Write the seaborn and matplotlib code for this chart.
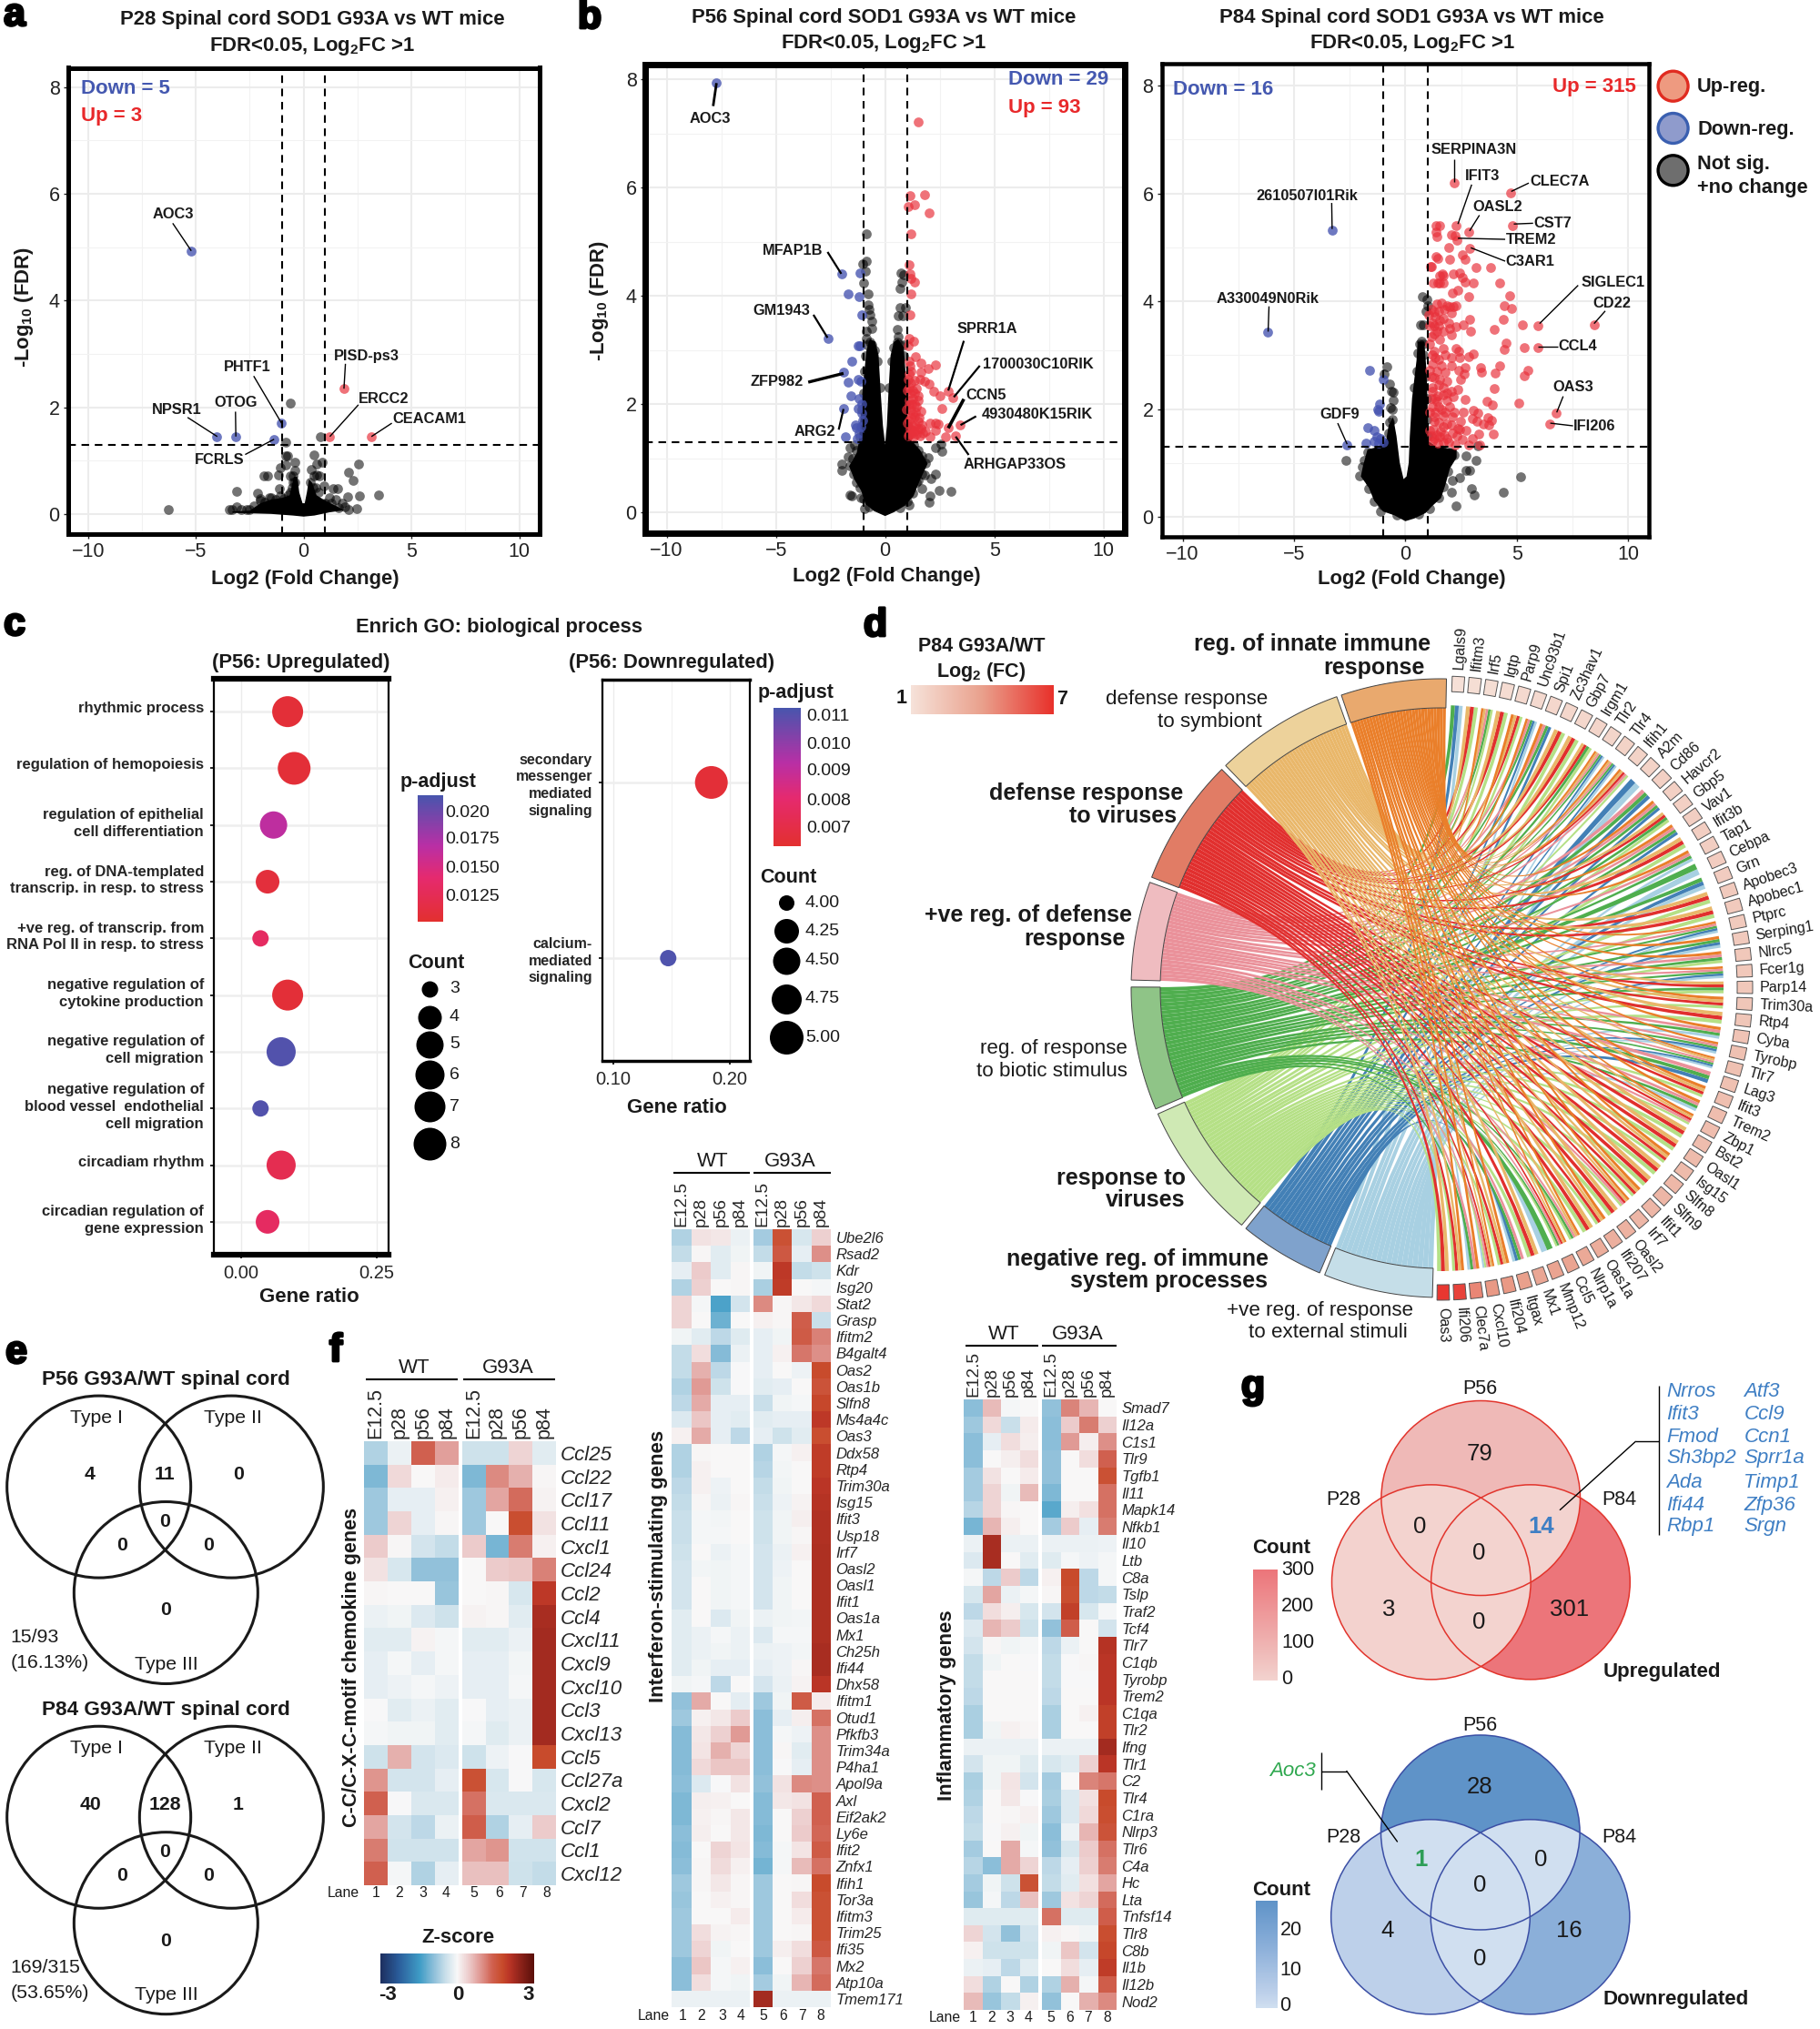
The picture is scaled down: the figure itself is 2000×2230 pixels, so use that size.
import numpy as np
import pandas as pd
import matplotlib
matplotlib.use('Agg')
import matplotlib.pyplot as plt
import seaborn as sns
from matplotlib.cm import ScalarMappable
from matplotlib.colors import LinearSegmentedColormap, Normalize
from matplotlib.patches import Ellipse, PathPatch
from matplotlib.path import Path
from matplotlib.transforms import ScaledTranslation
import matplotlib.patheffects as pe

W, H = 2000, 2230
sns.set_theme(style='white')
plt.rcParams['font.family'] = ['Liberation Sans', 'DejaVu Sans']
plt.rcParams['mathtext.fontset'] = 'custom'
plt.rcParams['mathtext.rm'] = 'Liberation Sans'
plt.rcParams['mathtext.bf'] = 'Liberation Sans:bold'
plt.rcParams['mathtext.it'] = 'Liberation Sans:italic'
plt.rcParams['text.color'] = '#1a1a1a'

# ---------- volcano values (log2 FC, -log10 FDR) ----------
p28_down = [(-5.22, 4.93), (-4.02, 1.45), (-3.14, 1.45), (-1.03, 1.70), (-1.38, 1.40)]
p28_up = [(1.86, 2.35), (1.21, 1.45), (3.14, 1.45)]
p28_ns = [(-.62, 2.07), (.79, 1.45), (-.83, 1.34), (-6.29, .08), (2.55, .93), (2.1, .78), (2.31, .62),
          (3.48, .36), (2.57, .34), (2.05, .32), (-3.12, .43), (-3.12, .14), (-2.12, .39), (-1.86, .72),
          (-1.66, .72), (-1.17, .73), (.47, 1.1), (.86, .97), (.59, .93), (-.83, 1.08), (-.75, 1.08),
          (-.4, .97), (-1.09, .86), (-.83, .91), (-.4, .82), (.34, .84), (.59, .73), (.95, .53),
          (1.38, .47), (1.59, .47), (-1.14, .48), (2.1, .09), (2.45, .1), (1.5, .27), (-3.45, .09),
          (-3.3, .09), (-2.64, .09), (-2.5, .09), (-2.9, .09), (-2, .25), (-1.5, .3), (.75, .72),
          (.5, .72), (-.6, .72), (-.5, .72), (1.8, .2), (1.2, .3), (-2.3, .15), (-2.0, .28), (-1.8, .22),
          (-1.6, .3), (-1.3, .27), (-1.1, .33), (-.9, .28), (-.7, .35), (-.6, .4), (-.55, .5), (-.5, .6),
          (1.0, .2), (1.3, .2), (1.6, .12), (1.9, .13), (.7, .4), (.55, .5), (-.42, .6), (.3, .6), (.42, .5)]
p28_mass_x = [-3.3, -2.5, -2, -1.5, -1, -.65, -.45, -.3, -.2, -.05, .05, .15, .25, .4, .6, 1, 1.5, 1.9, 1.2, .5, 0, -.5, -1.5, -3.3]
p28_mass_y = [.05, .06, .2, .27, .3, .35, .7, .7, .4, .2, .2, .4, .65, .58, .35, .25, .15, .07, .03, -.03, -.05, -.03, 0, .02]

p56_down = [(-7.72, 7.94), (-1.97, 4.40), (-1.17, 4.42), (-1.7, 4.04), (-1.19, 3.99), (-1.07, 3.65), (-2.62, 3.22),
            (-1.24, 3.07), (-1.15, 3.07), (-1.53, 2.8), (-1.9, 2.59), (-1.68, 2.41), (-1.24, 2.45), (-1.1, 2.43),
            (-1.55, 2.15), (-1.19, 2.11), (-1.9, 1.92), (-1.22, 1.91), (-1.07, 1.84), (-1.36, 1.61), (-1.31, 1.56),
            (-1.19, 1.47), (-1.82, 1.4), (-1.28, 1.37), (-1.1, 1.58), (-1.05, 2.0), (-1.02, 1.7)]
p56_up = [(1.51, 7.21), (1.12, 5.85), (1.79, 5.87), (1.07, 5.65), (1.36, 5.69), (2.01, 5.54), (1.17, 5.15), (1.09, 4.58),
          (1.14, 4.41), (1.19, 4.33), (1.34, 4.25), (1.19, 4.04), (1.12, 3.65), (1.11, 3.21), (1.31, 3.17), (1.05, 3.07),
          (1.38, 2.87), (1.11, 2.8), (1.62, 2.75), (1.96, 2.66), (2.31, 2.72), (1.65, 2.59), (1.58, 2.46), (1.36, 2.44),
          (1.19, 2.39), (1.79, 2.43), (2.01, 2.37), (2.21, 2.24), (2.5, 2.15), (2.89, 2.24), (3.11, 2.12), (1.5, 2.16),
          (1.28, 2.11), (1.53, 2.07), (1.11, 2.07), (2.59, 1.91), (1.65, 1.86), (1.19, 1.88), (1.36, 1.76), (1.53, 1.68),
          (2.04, 1.64), (2.3, 1.65), (2.43, 1.63), (3.42, 1.61), (2.89, 1.56), (2.3, 1.51), (1.62, 1.54), (1.28, 1.51),
          (1.45, 1.44), (1.73, 1.46), (2.04, 1.4), (2.76, 1.4), (3.23, 1.42), (1.11, 1.44), (1.02, 1.65), (.99, 1.9),
          (1.02, 2.25), (1.25, 1.6), (1.4, 1.85), (1.2, 1.75), (1.05, 2.45), (1.3, 1.4), (1.6, 1.42), (1.15, 2.2),
          (1.45, 2.28), (1.4, 1.6), (1.15, 1.55), (1.05, 1.42), (1.1, 1.98), (1.22, 2.0), (1.35, 2.0), (1.45, 1.95),
          (1.25, 1.82), (1.1, 1.7), (1.5, 1.55), (1.2, 1.45), (1.35, 1.5), (1.55, 1.75), (1.1, 2.3), (1.25, 2.25),
          (1.35, 2.2), (1.7, 1.62), (1.85, 1.5), (1.08, 2.55), (1.2, 2.6), (1.12, 2.7)]
p56_ns = [(-.88, 5.15), (-.85, 4.64), (-1.02, 4.59), (-.9, 4.46), (-.97, 4.23), (-.77, 4.04), (.73, 4.43), (.85, 4.39),
          (.77, 4.25), (.68, 4.13), (.68, 3.79), (.94, 3.79), (.6, 3.63), (.8, 3.63), (.54, 3.38), (-.77, 3.84),
          (-.72, 3.75), (-.6, 3.53), (-.85, 3.35), (-.85, 3.21), (.6, 3.24), (-1.62, 1.19), (-1.7, 1.03), (-1.99, .89),
          (-1.99, .78), (-1.62, .32), (-1.53, .31), (-1.1, .27), (-.94, .07), (1.7, .43), (2.07, .3), (2.01, .18),
          (2.48, .41), (3.01, .38), (1.11, .14), (2.09, .62), (2.3, .71), (1.82, .69), (2.6, 1.13), (2.55, 1.26),
          (2.3, 1.19), (1.96, 1.01), (1.53, .59), (-1.4, 1.25), (-.7, 3.65), (-.62, 3.4), (.85, 3.1),
          (-1.0, 2.2), (-1.05, 1.9), (-1.0, 1.6), (-.95, 2.6), (-.9, 2.9), (-.8, 3.1), (-.7, 3.15), (-.6, 3.1), (-.5, 3.0),
          (-.35, 2.8), (-.25, 2.3), (.2, 2.3), (.3, 2.8), (.4, 3.05), (.55, 3.15), (.7, 3.1), (.85, 2.9), (.95, 2.4),
          (.95, 2.0), (1.0, 1.6), (1.0, 1.4), (-1.15, 1.4), (-1.3, 1.15), (-1.5, 1.0), (-1.6, .85), (-1.45, .7), (-1.3, .55),
          (-1.15, .45), (-1.0, .25), (-.75, .1), (.7, .08), (1, .2), (1.25, .35), (1.45, .55), (1.7, .7), (1.85, .9),
          (1.7, 1.05), (1.5, 1.15), (1.3, 1.25)]
p56_mass_x = [0, -.5, -.9, -1.1, -1.4, -1.65, -1.3, -1.2, -1.1, -1, -.85, -.7, -.45, -.3, -.2, -.1, 0, .08, .15, .25, .4, .6, .85, .95, 1.02, 1.05, 1.6, 1.95, 1.6, 1.3, .9, .4]
p56_mass_y = [-.07, .02, .15, .4, .6, .85, 1.1, 1.3, 1.9, 2.4, 3, 3.2, 3.15, 2.9, 2.2, 1.6, 1.25, 1.6, 2.2, 2.9, 3.15, 3.2, 3.05, 2.5, 2, 1.4, 1.15, .9, .6, .3, .12, 0]

p84_down = [(-6.18, 3.42), (-3.27, 5.32), (-2.62, 1.33), (-1.6, 2.71), (-1.0, 2.55), (-1.16, 2.1), (-1.25, 1.99), (-1.2, 1.96),
            (-1.7, 1.65), (-1.41, 1.61), (-1.77, 1.36), (-1.27, 1.49), (-1.12, 1.45), (-.98, 1.38), (-1.41, 1.41), (-1.2, 1.36)]
p84_up = [(2.2, 6.19), (4.74, 6.01), (4.82, 5.40), (2.83, 5.28), (2.27, 5.40), (2.31, 5.13), (2.89, 4.98), (5.95, 3.55), (8.46, 3.57),
          (5.93, 3.14), (6.76, 1.93), (6.47, 1.73), (1.37, 5.40), (1.54, 5.40), (1.37, 5.28), (1.41, 5.2), (2.06, 5.23), (2.25, 5.22),
          (1.93, 5.0), (1.39, 4.83), (1.46, 4.79), (1.97, 4.77), (2.54, 4.86), (2.68, 4.77), (1.18, 4.65), (1.12, 4.65), (3.18, 4.63),
          (3.83, 4.63), (1.64, 4.51), (1.55, 4.48), (1.7, 4.48), (2.14, 4.5), (2.45, 4.53), (2.54, 4.44), (1.25, 4.34), (1.45, 4.34),
          (1.55, 4.34), (1.71, 4.34), (2.68, 4.35), (3.04, 4.34), (4.24, 4.34), (2.35, 4.21), (2.1, 4.16), (2.83, 4.08), (4.7, 4.1),
          (4.43, 3.92), (4.78, 3.86), (1.6, 3.96), (1.4, 3.95), (1.87, 3.92), (2.0, 3.9), (2.29, 3.92), (2.15, 3.9), (1.48, 3.82),
          (2.06, 3.78), (1.33, 3.71), (1.68, 3.68), (2.87, 3.66), (4.41, 3.66), (2.6, 3.57), (1.1, 3.55), (1.48, 3.54), (1.97, 3.5),
          (2.29, 3.52), (5.24, 3.57), (3.99, 3.48), (2.91, 3.45), (1.68, 3.45), (2.06, 3.38), (1.29, 3.39), (1.2, 3.6), (1.3, 3.55),
          (1.55, 3.65), (4.51, 3.22), (4.43, 3.1), (5.34, 3.14), (1.68, 3.13), (2.29, 3.13), (1.29, 3.08), (2.41, 3.08), (3.06, 3.03),
          (1.77, 3.0), (2.83, 2.97), (2.45, 2.96), (2.06, 2.96), (1.48, 2.92), (1.19, 2.83), (4.22, 2.81), (2.06, 2.81), (2.68, 2.77),
          (3.37, 2.77), (5.49, 2.72), (3.41, 2.69), (4.03, 2.67), (1.1, 2.72), (2.39, 2.71), (1.77, 2.69), (5.34, 2.62), (2.62, 2.65),
          (1.29, 2.58), (2.48, 2.55), (1.87, 2.51), (1.48, 2.44), (1.2, 2.4), (3.99, 2.38), (2.35, 2.37), (2.06, 2.33), (1.19, 2.33),
          (1.68, 2.26), (2.16, 2.23), (1.33, 2.19), (1.45, 2.25), (2.66, 2.18), (3.66, 2.14), (3.91, 2.07), (5.07, 2.11), (1.87, 2.16),
          (1.48, 2.05), (1.2, 2.05), (1.1, 1.95), (2.6, 1.94), (3.06, 1.97), (3.26, 1.93), (1.68, 1.87), (2.1, 1.85), (1.3, 1.85),
          (2.49, 1.78), (3.02, 1.82), (3.7, 1.84), (3.85, 1.79), (1.29, 1.77), (1.87, 1.73), (3.22, 1.77), (3.5, 1.73), (3.76, 1.71),
          (2.35, 1.64), (2.74, 1.61), (1.58, 1.59), (1.25, 1.62), (3.95, 1.54), (3.31, 1.53), (3.02, 1.45), (2.54, 1.43), (1.87, 1.45),
          (1.29, 1.45), (3.35, 1.33), (2.83, 1.34), (2.25, 1.34), (1.68, 1.38), (1.2, 1.41), (1.45, 1.36), (1.1, 1.6), (1.1, 3.2),
          (1.05, 3.75), (1.2, 3.0), (1.15, 3.85), (1.3, 3.8), (1.75, 3.85), (1.95, 3.6), (1.4, 3.45), (1.55, 3.3), (1.15, 3.35),
          (1.35, 2.95), (1.6, 2.8), (1.15, 2.6), (1.4, 2.7), (1.55, 2.55), (1.7, 2.4), (1.15, 2.2), (1.4, 2.15), (1.85, 2.3),
          (1.6, 2.0), (1.35, 1.95), (1.8, 1.95), (2.0, 2.05), (1.5, 1.75), (2.2, 1.95), (1.7, 1.68), (2.05, 1.7), (1.4, 1.52),
          (1.75, 1.52), (2.1, 1.55), (1.15, 1.5), (2.3, 1.5), (1.95, 1.38), (2.45, 1.62), (1.55, 1.48)]
p84_ns = [(-.83, 2.78), (-.96, 2.65), (-.69, 2.46), (-.64, 2.33), (-.54, 2.31), (-.54, 2.16), (-.67, 2.02), (-.6, 2.0), (-2.66, 1.04),
          (5.18, .75), (4.39, .45), (2.97, .53), (3.08, .4), (2.29, .2), (2.87, .86), (2.74, .87), (3.16, 1.05), (2.45, .72), (2.1, .67),
          (2.06, .46), (3.26, 1.31), (2.74, 1.13), (.77, 4.09), (.96, 4.03), (1.0, 3.92), (.94, 3.82), (.67, 3.56), (.81, 3.56),
          (.71, 3.25), (.56, 3.04), (-2.04, .76), (-1.93, .93), (-1.7, 1.2), (-1.64, .53), (-1.41, .28), (-1.12, .11), (.7, 2.7), (.8, 3.0),
          (-1.85, 1.05), (-1.75, .85), (-1.55, .65), (-1.3, .42), (-1.05, .22), (-.7, 1.75), (-.6, 1.8), (-.75, 1.55), (-.95, 1.35),
          (.65, 3.2), (.8, 3.2), (.5, 2.7), (.4, 2.4), (.9, 2.6), (.95, 2.2), (.95, 1.8), (1.0, 1.5), (1.6, 1.25), (2.0, 1.2), (2.2, 1.15),
          (1.9, .85), (1.7, .55), (1.5, .35), (1.1, .15), (.6, .05), (-.4, .03)]
p84_mass_x = [0, -.5, -1, -1.4, -1.65, -2, -1.9, -1.7, -1.2, -.85, -.75, -.55, -.4, -.25, -.08, .05, .15, .2, .3, .5, .55, .85, .95, 1, 1.05, 1.4, 2.3, 2.3, 2, 1.8, 1.6, 1.2, .9, .4]
p84_mass_y = [-.08, .03, .1, .3, .55, .75, .95, 1.25, 1.3, 1.45, 1.7, 1.85, 1.5, 1, .7, .75, 1, 1.5, 2.2, 2.9, 3.25, 3.25, 2.7, 2, 1.4, 1.3, 1.25, 1.1, .9, .6, .35, .2, .07, -.03]

# ---------- GO enrichment ----------
up_terms = ['rhythmic process', 'regulation of hemopoiesis', 'regulation of epithelial\ncell differentiation',
            'reg. of DNA-templated\ntranscrip. in resp. to stress', '+ve reg. of transcrip. from\nRNA Pol II in resp. to stress',
            'negative regulation of\ncytokine production', 'negative regulation of\ncell migration',
            'negative regulation of\nblood vessel  endothelial\ncell migration', 'circadiam rhythm',
            'circadian regulation of\ngene expression']
up_ratio = [.086, .098, .06, .049, .036, .086, .074, .036, .074, .049]
up_count = [7, 8, 5, 4, 3, 7, 6, 3, 6, 4]
up_padj = [.011, .011, .0168, .0112, .0135, .011, .0212, .0212, .0125, .0135]
down_terms = ['secondary\nmessenger\nmediated\nsignaling', 'calcium-\nmediated\nsignaling']
down_ratio = [.184, .147]
down_count = [5, 4]
down_padj = [.0066, .0112]
up_count_levels = [3, 4, 5, 6, 7, 8]
down_count_levels = ['4.00', '4.25', '4.50', '4.75', '5.00']

# ---------- chord diagram ----------
go_names = ['innate', 'symbiont', 'viruses', 'pos_defense', 'biotic', 'response', 'negative', 'external']
go_start = [88.9, 109.6, 135, 160, 179.8, 204, 231, 248]
go_end = [108.7, 134, 159, 178.5, 203, 230, 247, 268.5]
chord_genes = ['Lgals9', 'Ifitm3', 'Irf5', 'Igtp', 'Parp9', 'Unc93b1', 'Spi1', 'Zc3hav1', 'Gbp7', 'Irgm1', 'Tlr2', 'Tlr4', 'Ifih1',
               'A2m', 'Cd86', 'Havcr2', 'Gbp5', 'Vav1', 'Ifit3b', 'Tap1', 'Cebpa', 'Grn', 'Apobec3', 'Apobec1', 'Ptprc', 'Serping1',
               'Nlrc5', 'Fcer1g', 'Parp14', 'Trim30a', 'Rtp4', 'Cyba', 'Tyrobp', 'Tlr7', 'Lag3', 'Ifit3', 'Trem2', 'Zbp1', 'Bst2',
               'Oasl1', 'Isg15', 'Slfn8', 'Slfn9', 'Ifit1', 'Irf7', 'Oasl2', 'Ifi207', 'Oas1a', 'Nlrp1a', 'Ccl5', 'Mmp12', 'Mx1',
               'Itgax', 'Ifi204', 'Cxcl10', 'Clec7a', 'Ifi206', 'Oas3']
chord_fc = [1.1, 1.2, 1.2, 1.3, 1.4, 1.4, 1.5, 1.5, 1.5, 1.6, 1.6, 1.7, 1.7, 1.7, 1.8, 1.8, 1.8, 1.9, 1.9, 1.9, 2, 2, 2.1, 2.1, 2.1, 2.1,
            2.2, 2.2, 2.2, 2.3, 2.3, 2.4, 2.5, 2.5, 2.5, 2.6, 2.7, 2.7, 2.7, 2.8, 2.8, 2.9, 3, 3, 3, 3.2, 3.3, 3.4, 3.6, 3.8, 3.8,
            3.7, 4, 4.2, 4.2, 4.7, 6.5, 6.8]
chord_terms = ['467', '125', '01345', '125', '0125', '03467', '0346', '125', '125', '1245', '013467', '013467', '01235',
               '67', '346', '0346', '1245', '0346', '125', '0347', '47', '467', '125', '125', '03467', '0467',
               '0345', '03467', '1245', '0125', '125', '0347', '03467', '013467', '346', '0125', '0347', '01235', '125',
               '125', '0125', '125', '125', '0125', '01235', '125', '0125', '125', '01345', '012345', '47', '125',
               '3467', '0125', '012357', '0347', '0125', '125']
term_ring = ['#e9a96e', '#edd29b', '#e17c65', '#efbcc0', '#8fc487', '#cfe9b4', '#7fa2cc', '#c5dee8']
term_chord = ['#ea7f2a', '#e9b76a', '#e12f2e', '#ea919a', '#4fae4e', '#b5e086', '#4380b6', '#a8d0e2']

# ---------- heatmaps (z-scores) ----------
stages = ['E12.5', 'p28', 'p56', 'p84']
chem_genes = ['Ccl25', 'Ccl22', 'Ccl17', 'Ccl11', 'Cxcl1', 'Ccl24', 'Ccl2', 'Ccl4', 'Cxcl11', 'Cxcl9', 'Cxcl10', 'Ccl3', 'Cxcl13',
              'Ccl5', 'Ccl27a', 'Cxcl2', 'Ccl7', 'Ccl1', 'Cxcl12']
chem_z = [[-.7, -.15, 1.5, .9, -.45, -.45, .4, -.25], [-1.1, .35, .02, .15, -1.1, 1.1, .75, .05], [-.85, -.2, -.2, .08, -.85, .85, 1.4, .07],
          [-.85, .4, -.2, .03, -.85, .02, 1.85, .25], [.5, .03, -.4, -.55, .5, -1.15, 1.25, .1], [.25, -.35, -.95, -.95, .02, .5, .55, 1.2],
          [.05, .02, .02, -.9, .02, .03, -.35, 2.15], [-.15, -.08, -.3, -.45, .07, .03, -.25, 2.4], [-.25, -.25, .07, -.05, -.25, -.25, -.15, 2.45],
          [-.2, -.05, -.2, -.05, -.2, -.2, -.07, 2.45], [-.2, -.12, -.03, -.12, -.2, -.2, -.03, 2.45], [-.02, -.25, -.15, -.25, -.02, -.2, -.15, 2.45],
          [-.03, -.1, -.1, -.25, -.04, -.28, -.15, 2.45], [-.45, .75, -.4, -.3, -.45, -.12, -.02, 1.9], [1.0, -.4, -.4, -.2, 1.8, -.35, -.02, -.35],
          [1.5, -.02, -.33, -.33, 1.35, -.33, -.33, -.33], [.85, -.4, -.6, -.15, 1.55, -.7, -.2, .5], [1.25, -.42, -.42, -.42, .85, 1.0, -.42, -.42],
          [1.5, -.05, -.7, -.2, .6, .6, -.45, -.55]]
isg_genes = ['Ube2l6', 'Rsad2', 'Kdr', 'Isg20', 'Stat2', 'Grasp', 'Ifitm2', 'B4galt4', 'Oas2', 'Oas1b', 'Slfn8', 'Ms4a4c', 'Oas3', 'Ddx58',
             'Rtp4', 'Trim30a', 'Isg15', 'Ifit3', 'Usp18', 'Irf7', 'Oasl2', 'Oasl1', 'Ifit1', 'Oas1a', 'Mx1', 'Ch25h', 'Ifi44', 'Dhx58',
             'Ifitm1', 'Otud1', 'Pfkfb3', 'Trim34a', 'P4ha1', 'Apol9a', 'Axl', 'Eif2ak2', 'Ly6e', 'Ifit2', 'Znfx1', 'Ifih1', 'Tor3a',
             'Ifitm3', 'Trim25', 'Ifi35', 'Mx2', 'Atp10a', 'Tmem171']
isg_z = [[-.7, .25, .2, -.15, -.8, 1.8, -.35, .45], [-.55, .03, -.25, -.1, -.55, 1.65, -.2, 1.05], [-.2, .5, -.25, .05, -.08, 2.15, -.55, -.45],
         [-.7, .45, 0, .03, -.75, 2.1, .02, -.03], [.4, -.05, -1.5, -.4, 1.1, .05, .2, .35], [.4, 0, -1.25, 0, .08, .05, 1.55, -.5],
         [-.1, -.25, -.6, -.28, -.2, -.1, 1.6, 1.2], [-.55, .3, -1.05, -.15, -.2, .1, 1.3, 1.05], [-.55, .75, -.6, -.02, -.2, 0, -.12, 1.9],
         [-.7, .95, -.45, -.02, -.25, -.2, 0, 1.75], [-.6, .8, -.2, -.2, -.5, -.1, -.03, 1.95], [-.3, .55, -.2, -.25, -.25, -.2, -.18, 2.15],
         [.1, .8, -.2, -.6, -.18, -.45, -.25, 1.85], [-.7, .05, .02, .02, -.7, -.05, .08, 2.1], [-.7, .1, .02, .02, -.65, -.07, .02, 2.1],
         [-.6, .1, -.12, .02, -.55, -.1, .02, 2.2], [-.55, .05, -.15, .05, -.5, -.12, .06, 2.25], [-.5, -.05, -.07, .02, -.45, -.1, .12, 2.3],
         [-.5, -.05, -.05, 0, -.45, -.1, .05, 2.3], [-.45, 0, -.13, -.03, -.4, -.15, .1, 2.35], [-.4, -.07, -.08, -.03, -.4, -.12, 0, 2.35],
         [-.4, 0, -.1, -.03, -.4, -.1, 0, 2.35], [-.4, 0, -.08, -.03, -.4, -.1, 0, 2.35], [-.25, 0, -.3, -.1, -.15, -.1, -.07, 2.35],
         [-.25, -.15, -.03, -.15, -.3, -.05, -.05, 2.35], [-.25, -.15, -.08, -.15, -.15, -.12, -.07, 2.4], [-.25, -.1, -.18, -.18, -.18, -.12, .03, 2.4],
         [-.1, -.03, -.6, 0, -.38, -.15, .07, 2.2], [-.95, .8, 0, -.22, -.85, -.1, 1.6, .15], [-.85, .1, .18, .5, -1.0, -.2, .12, 1.35],
         [-1.05, .18, .45, .95, -1.0, -.03, -.12, 1.05], [-1.05, .22, .75, .4, -1.0, .03, -.25, 1.05], [-1.05, .35, .55, .55, -1.0, -.01, -.2, 1.05],
         [-1.0, -.3, -.02, .25, -.95, .25, 1.1, 1.05], [-1.1, .12, .08, .02, -1.05, .2, .25, 1.5], [-1.1, .08, .05, .2, -1.05, .02, .45, 1.5],
         [-1.0, .12, 0, .2, -1.1, .02, .5, 1.45], [-1.05, 0, .4, .22, -1.05, -.05, .22, 1.6], [-1.0, .03, .33, .1, -1.2, -.05, .65, 1.35],
         [-.85, .03, .2, .03, -.85, .02, .05, 1.9], [-.9, .02, .1, .04, -.85, .02, .3, 1.8], [-.85, .02, .02, .15, -.85, .02, .15, 1.8],
         [-.85, .3, .06, .05, -.85, .02, .04, 1.8], [-.85, .4, -.1, 0, -.85, .12, .3, 1.65], [-1.0, .55, -.05, .1, -1.0, .02, .45, 1.3],
         [-1.0, .3, -.03, -.1, -.8, -.1, .7, 1.4], [-.15, -.15, -.15, -.15, 2.45, -.15, -.15, -.15]]
infl_genes = ['Smad7', 'Il12a', 'C1s1', 'Tlr9', 'Tgfb1', 'Il11', 'Mapk14', 'Nfkb1', 'Il10', 'Ltb', 'C8a', 'Tslp', 'Traf2', 'Tcf4', 'Tlr7', 'C1qb',
              'Tyrobp', 'Trem2', 'C1qa', 'Tlr2', 'Ifng', 'Tlr1', 'C2', 'Tlr4', 'C1ra', 'Nlrp3', 'Tlr6', 'C4a', 'Hc', 'Lta', 'Tnfsf14', 'Tlr8',
              'C8b', 'Il1b', 'Il12b', 'Nod2']
infl_z = [[-1.0, .65, -.05, 0, -.95, 1.15, .7, .02], [-.85, .35, -.5, .15, -1.0, .5, 1.25, .45], [-1.0, -.2, .3, .12, -1.0, .95, .12, 1.05],
          [-1.0, 0, .12, .3, -.95, 0, .3, 1.5], [-.8, .25, 0, .15, -.95, .02, .02, 1.8], [-.8, .4, -.08, .65, -1.1, .01, .02, 1.35],
          [-.65, .4, .03, 0, -1.4, .12, .28, 1.35], [-1.15, .7, .12, 0, -.8, .5, -.2, 1.25], [-.15, 2.4, -.15, -.15, -.15, -.15, -.15, -.12],
          [-.3, 2.4, 0, -.25, -.28, -.03, -.12, -.05], [-.05, -.6, .5, -.6, .08, 1.9, -.6, -.03], [-.35, .85, -.15, -.03, .04, 1.85, -.6, -.55],
          [-.6, .3, .12, -.35, -.4, 2.05, -.35, -.05], [-.3, .7, .5, -.45, -.95, 1.55, 0, -.4], [-.4, .03, -.08, -.03, -.6, -.15, 0, 2.25],
          [-.55, -.1, 0, -.02, -.55, -.02, .03, 2.2], [-.55, .01, .01, .01, -.55, -.02, -.02, 2.2], [-.6, .02, .02, .02, -.6, 0, 0, 2.2],
          [-.75, 0, 0, 0, -.75, .02, .08, 2.05], [-.75, -.08, .08, .05, -.75, 0, 0, 2.05], [-.15, -.15, -.15, -.15, -.15, -.15, -.15, 2.45],
          [-.4, -.1, -.08, -.28, -.35, -.25, .45, 2.2], [-.75, -.08, .22, -.4, -.8, 0, 1.15, 1.3], [-.7, 0, .2, -.02, -.75, -.3, .28, 1.9],
          [-.6, 0, .05, .08, -.85, -.3, .35, 1.85], [-.55, -.02, .1, -.1, -1.0, -.12, .7, 1.75], [-.8, 0, .8, -.03, -.95, -.35, .5, 1.35],
          [-.65, -1.0, .8, .4, -.6, -.2, .45, 1.25], [-.8, -.1, -.45, 1.8, -.55, -.25, .28, .85], [-.9, -.03, -.6, .6, -.85, .25, .4, 1.4],
          [-.28, -.28, -.28, -.28, 1.35, -.28, -.28, 1.55], [.4, -.4, -.95, -.4, .08, .05, -.1, 1.85], [.08, -.45, -.45, -.45, -.1, .55, -.4, 1.95],
          [-.15, -.2, -.6, -.25, 0, .3, -.2, 2.1], [.3, -.7, 0, -.7, -.7, .75, -.03, 1.55], [.65, -.9, -.55, .1, -.95, .02, .75, 1.1]]

# ---------- Venn counts ----------
venn_up = {'p56': 79, 'p28': 3, 'p84': 301, 'overlap': 0}
venn_down = {'p56': 28, 'p28': 4, 'p84': 16, 'overlap': 0}
genes_col1 = ['Nrros', 'Ifit3', 'Fmod', 'Sh3bp2', 'Ada', 'Ifi44', 'Rbp1']
genes_col2 = ['Atf3', 'Ccl9', 'Ccn1', 'Sprr1a', 'Timp1', 'Zfp36', 'Srgn']

# ---------- colours ----------
z_max = 3.27
z_stops = [(-3.27, '#1d2f5f'), (-2.5, '#2a5c9a'), (-1.6, '#3f9cc6'), (-1.0, '#8dbfd9'), (-.5, '#c9dfea'), (0, '#f8f8f8'),
           (.5, '#eccbcb'), (1.0, '#df9690'), (1.5, '#d0604f'), (1.9, '#c84c2c'), (2.2, '#bc3626'), (2.45, '#a32b20'), (3.27, '#5a0f0a')]
z_cmap = LinearSegmentedColormap.from_list('z', [((z + z_max) / (2 * z_max), c) for z, c in z_stops])
p_cmap = LinearSegmentedColormap.from_list('p', [(0, '#e3302f'), (.35, '#e52a6f'), (.6, '#b92fa5'), (1, '#4855ad')])
fc_cmap = LinearSegmentedColormap.from_list('fc', ['#f6e2d9', '#e9a08c', '#e8302a'])
venn_red = LinearSegmentedColormap.from_list('vr', [(0, '#f3d3cf'), (79 / 300, '#efb9b7'), (1, '#ec757a')])
venn_blue = LinearSegmentedColormap.from_list('vb', [(0, '#d0dff0'), (4 / 28, '#bdd0ea'), (16 / 28, '#8bafd9'), (1, '#5f93c8')])

fig = plt.figure(figsize=(W / 100, H / 100), dpi=100, facecolor='white')


def px_axes(l, t, r, b, **kw):
    return fig.add_axes([l / W, 1 - b / H, (r - l) / W, (b - t) / H], **kw)


def crop(x0, y0, fx, fy):
    # positions below were measured on enlarged crops of the reference
    return lambda px, py: (x0 + px / fx, y0 + py / fy)


c1 = crop(0, 0, 2.45, 2.376)
c2 = crop(640, 0, 2.45, 2.376)
c3 = crop(1260, 0, 2.119, 2.376)
c4 = crop(0, 670, 1.65, 2.01)
c5 = crop(950, 670, 1.493, 1.823)
c6 = crop(360, 1450, 3, 2.01)
c7 = crop(700, 1250, 2.8, 1.6)
c8 = crop(1030, 1440, 3, 1.985)
c9 = crop(1350, 1480, 2.41, 2.09)
c10 = crop(0, 1450, 3, 2.01)


def volcano(rect, ns, mass_x, mass_y, down, up, frame_px, xlim, ylim):
    ax = px_axes(*rect)
    ax.set_xlim(*xlim)
    ax.set_ylim(*ylim)
    ax.set_xticks([-10, -5, 0, 5, 10])
    ax.set_yticks([0, 2, 4, 6, 8])
    ax.set_xticks([-7.5, -2.5, 2.5, 7.5], minor=True)
    ax.set_yticks([1, 3, 5, 7], minor=True)
    ax.grid(True, which='major', color='#ececec', lw=1.5)
    ax.grid(True, which='minor', color='#f2f2f2', lw=.8)
    ax.set_axisbelow(True)
    ax.tick_params(which='major', length=3.5, width=1, labelsize=15.5, left=True, bottom=True, pad=3, colors='#222222')
    ax.tick_params(which='minor', length=0)
    ax.fill(mass_x, mass_y, color='black', lw=0, zorder=2)
    groups = [(ns, 'black', .55), (down, '#4553b0', .78), (up, '#e8303a', .68)]
    for pts, col, alpha in groups:
        d = pd.DataFrame(pts, columns=['fc', 'fdr'])
        sns.scatterplot(data=d, x='fc', y='fdr', color=col, alpha=alpha, s=60, linewidth=0, ax=ax, zorder=3, legend=False)
    ax.axhline(1.3, color='black', lw=1.5, ls=(0, (4, 3)), zorder=4)
    ax.axvline(-1, color='black', lw=1.5, ls=(0, (4, 3)), zorder=4)
    ax.axvline(1, color='black', lw=1.5, ls=(0, (4, 3)), zorder=4)
    ax.set_xlabel('')
    ax.set_ylabel('')
    for s in ax.spines.values():
        s.set_linewidth(frame_px * .72)
        s.set_color('black')
    return ax


volcano((74.7, 74.5, 592.6, 587), p28_ns, p28_mass_x, p28_mass_y, p28_down, p28_up, 5, (-10.93, 10.93), (-.378, 8.36))
volcano((708.6, 70.7, 1236, 586), p56_ns, p56_mass_x, p56_mass_y, p56_down, p56_up, 7, (-11, 10.97), (-.387, 8.28))
volcano((1276.5, 70.3, 1812, 590), p84_ns, p84_mass_x, p84_mass_y, p84_down, p84_up, 4.5, (-10.94, 10.93), (-.37, 8.4))


def dotplot(rect, terms, ratio, count, padj, sizes, vlim, xlim, ylim, xticks, minor, lw_tb, label_pt, shift_px):
    ax = px_axes(*rect)
    d = pd.DataFrame({'ratio': ratio, 'row': range(len(terms)), 'count': count, 'padj': padj})
    sns.scatterplot(data=d, x='ratio', y='row', hue='padj', hue_norm=vlim, palette=p_cmap, size='count', sizes=sizes,
                    linewidth=0, legend=False, ax=ax, zorder=3)
    ax.set_xlim(*xlim)
    ax.set_ylim(*ylim)
    ax.set_xticks(xticks)
    ax.set_xticks(minor, minor=True)
    ax.set_yticks(range(len(terms)))
    ax.set_yticklabels(terms, ma='right', fontsize=label_pt, fontweight='bold', linespacing=1.3)
    ax.set_xticklabels(['%.2f' % t for t in xticks], fontsize=14.5)
    ax.tick_params(axis='y', left=True, length=3, width=1.4, pad=5)
    ax.tick_params(axis='x', which='major', bottom=True, length=3, width=1.4, pad=5)
    ax.tick_params(axis='x', which='minor', length=0)
    ax.grid(True, axis='y', color='#eeeeee', lw=1.8)
    ax.grid(True, axis='x', which='major', color='#ebebeb', lw=1)
    ax.grid(True, axis='x', which='minor', color='#f0f0f0', lw=.7)
    ax.set_axisbelow(True)
    ax.set_xlabel('')
    ax.set_ylabel('')
    lift = ScaledTranslation(0, shift_px / 100, fig.dpi_scale_trans)
    for lab in ax.get_yticklabels():
        lab.set_transform(lab.get_transform() + lift)
    for side, s in ax.spines.items():
        s.set_color('black')
        s.set_linewidth(lw_tb if side in ('top', 'bottom') else 1.6)
    return ax


def to_s(px):
    return (px * .72) ** 2


up_diam = {3: 18, 4: 26, 5: 30, 6: 32, 7: 34, 8: 36}
dotplot((235, 746, 427, 1379), up_terms, up_ratio, up_count, up_padj, {k: to_s(v) for k, v in up_diam.items()},
        (.0104, .0216), (-.05, .272), (9.58, -.58), [0, .25], [.125], 4.5, 12, 5)
dotplot((662, 747, 824, 1166), down_terms, down_ratio, down_count, down_padj, {4: to_s(18), 5: to_s(36)},
        (.00634, .01133), (.0906, .217), (1.585, -.585), [.1, .2], [.15], 2.5, 11.5, 0)


def grad_bar(l, t, r, b, cmap, vmin, vmax, ticks, horizontal=False):
    ax = px_axes(l, t, r, b)
    sm = ScalarMappable(Normalize(vmin, vmax), cmap)
    cb = fig.colorbar(sm, cax=ax, orientation='horizontal' if horizontal else 'vertical')
    cb.outline.set_visible(False)
    cb.set_ticks(ticks)
    if horizontal:
        ax.tick_params(top=True, bottom=True, labelbottom=False, direction='in', color='white', length=5, width=1.4)
    else:
        ax.tick_params(left=True, right=True, labelright=False, direction='in', color='white', length=4, width=1)
    return ax


grad_bar(459, 874, 487, 1013, p_cmap, .0104, .0216, [.0125, .015, .0175, .02])
grad_bar(850, 778, 880, 930, p_cmap, .00634, .01133, [.007, .008, .009, .01, .011])
grad_bar(1001, 753, 1158, 785, fc_cmap, 1, 7, [], horizontal=True)
grad_bar(418, 2146.5, 587, 2180, z_cmap, -z_max, z_max, [-3, 0, 3], horizontal=True)
grad_bar(*c9(65, 513), *c9(130, 767), venn_red, 0, 300, [0, 100, 200, 300])
grad_bar(*c9(72, 1273), *c9(129, 1520), venn_blue, 0, 28, [0, 10, 20])


def heatmap(block_l, block_r, top, bottom, genes, z, label_pt, col_pt):
    z = np.array(z)
    left = px_axes(block_l[0], top, block_l[1], bottom)
    right = px_axes(block_r[0], top, block_r[1], bottom)
    for ax, cols, labels in [(left, z[:, :4], False), (right, z[:, 4:], genes)]:
        sns.heatmap(pd.DataFrame(cols, index=genes, columns=stages), cmap=z_cmap, vmin=-z_max, vmax=z_max, cbar=False, ax=ax,
                    xticklabels=stages, yticklabels=labels if labels else False, linewidths=0, rasterized=True)
        ax.xaxis.tick_top()
        ax.set_xticklabels(stages, rotation=90, ha='center', va='bottom', fontsize=col_pt)
        ax.tick_params(axis='x', length=0, pad=2)
        ax.set_ylabel('')
    right.yaxis.tick_right()
    right.set_yticklabels(genes, rotation=0, style='italic', fontsize=label_pt)
    right.tick_params(axis='y', length=0, pad=4, right=False)


heatmap((400, 503.7), (508, 610.7), 1584, 2072, chem_genes, chem_z, 16, 15.5)
heatmap((738, 824.3), (827.5, 913), 1351, 2206, isg_genes, isg_z, 12, 13.8)
heatmap((1059.3, 1141), (1145, 1227), 1538, 2209, infl_genes, infl_z, 12, 13.8)

# everything below is drawn on one transparent axes in picture pixels
canvas = fig.add_axes([0, 0, 1, 1], facecolor='none')
canvas.set_xlim(0, W)
canvas.set_ylim(H, 0)
canvas.axis('off')
canvas.autoscale(False)


def put(c, px, py, s, size=14, weight='normal', **kw):
    kw.setdefault('ha', 'center')
    kw.setdefault('va', 'center')
    return canvas.text(*c(px, py), s, fontsize=size, fontweight=weight, **kw)


def seg(c, x0, y0, x1, y1, lw=1, color='black'):
    a, b = c(x0, y0), c(x1, y1)
    canvas.plot([a[0], b[0]], [a[1], b[1]], color=color, lw=lw, solid_capstyle='butt')


# panel letters
for letter, x, y in [('a', 16, 17), ('b', 648, 20), ('c', 16, 687), ('d', 962, 688), ('e', 18, 1487), ('f', 369, 1485), ('g', 1377, 1525)]:
    canvas.text(x, y, letter, fontsize=31, fontweight='bold', ha='center', va='center', color='black',
                path_effects=[pe.withStroke(linewidth=2, foreground='black')])

# volcano titles, labels
sub = r'FDR<0.05, Log$_\mathbf{2}$FC >1'
for c, cx, age, yt, ys in [(c1, 840, 'P28', 52, 122), (c2, 812, 'P56', 47, 115), (c3, 618, 'P84', 47, 115)]:
    put(c, cx, yt, age + ' Spinal cord SOD1 G93A vs WT mice', 15.9, 'bold')
    put(c, cx, ys, sub, 15.9, 'bold')
for c, cx, yb in [(c1, 822, 1512), (c2, 818, 1505), (c3, 618, 1512)]:
    put(c, cx, yb, 'Log2 (Fold Change)', 15.8, 'bold')
put(c1, 65, 802, r'-Log$_\mathbf{10}$ (FDR)', 15.8, 'bold', rotation=90)
put(c2, 45, 787, r'-Log$_\mathbf{10}$ (FDR)', 15.8, 'bold', rotation=90)
blue_txt, red_txt = '#4458b0', '#e8282a'
put(c1, 218, 232, 'Down = 5', 16, 'bold', color=blue_txt, ha='left')
put(c1, 218, 303, 'Up = 3', 16, 'bold', color=red_txt, ha='left')
put(c2, 1147, 208, 'Down = 29', 16, 'bold', color=blue_txt, ha='left')
put(c2, 1147, 282, 'Up = 93', 16, 'bold', color=red_txt, ha='left')
put(c3, 62, 235, 'Down = 16', 16, 'bold', color=blue_txt, ha='left')
put(c3, 1140, 226, 'Up = 315', 16, 'bold', color=red_txt, ha='right')

labels_a = [('AOC3', 467, 560, 465, 583, 515, 655), ('PHTF1', 666, 958, 683, 982, 758, 1105), ('NPSR1', 476, 1070, 505, 1090, 585, 1140),
            ('OTOG', 635, 1052, 634, 1075, 635, 1140), ('FCRLS', 591, 1202, 660, 1187, 738, 1147), ('PISD-ps3', 988, 930, 930, 950, 926, 1015),
            ('ERCC2', 1033, 1043, 965, 1057, 888, 1140), ('CEACAM1', 1155, 1093, 1055, 1105, 1000, 1140)]
labels_b = [('AOC3', 345, 310, 352, 277, 361, 217, 2), ('MFAP1B', 567, 654, 660, 658, 697, 715, 1.6), ('GM1943', 535, 812, 622, 822, 660, 882, 1.6),
            ('ZFP982', 524, 997, 608, 998, 703, 975, 2.4), ('ARG2', 625, 1128, 690, 1122, 703, 1068, 1.6), ('SPRR1A', 1090, 860, 1027, 890, 985, 1020, 1.6),
            ('1700030C10RIK', 1228, 952, 1070, 955, 1000, 1037, 1.6), ('CCN5', 1087, 1032, 1027, 1042, 985, 1118, 2.6),
            ('4930480K15RIK', 1225, 1082, 1060, 1087, 1018, 1110, 1.6), ('ARHGAP33OS', 1163, 1214, 1040, 1188, 1005, 1140, 1.6)]
labels_c = [('SERPINA3N', 763, 390, 717, 415, 717, 475), ('IFIT3', 781, 460, 757, 482, 725, 585), ('CLEC7A', 963, 475, 890, 478, 849, 500),
            ('OASL2', 817, 540, 775, 562, 752, 603), ('CST7', 946, 584, 900, 583, 855, 585), ('TREM2', 895, 625, 835, 625, 725, 622),
            ('C3AR1', 892, 684, 835, 682, 755, 647), ('2610507I01Rik', 373, 513, 431, 530, 432, 598), ('SIGLEC1', 1086, 738, 1005, 745, 915, 845),
            ('CD22', 1083, 792, 1068, 812, 1042, 845), ('A330049N0Rik', 281, 780, 285, 800, 283, 866), ('CCL4', 1003, 905, 958, 906, 912, 906),
            ('GDF9', 449, 1083, 445, 1105, 467, 1160), ('OAS3', 993, 1012, 970, 1035, 955, 1077), ('IFI206', 1043, 1113, 993, 1112, 940, 1105)]
for name, tx, ty, x0, y0, x1, y1 in labels_a:
    put(c1, tx, ty, name, 11.8, 'bold')
    seg(c1, x0, y0, x1, y1)
for name, tx, ty, x0, y0, x1, y1, lw in labels_b:
    put(c2, tx, ty, name, 11.8, 'bold')
    seg(c2, x0, y0, x1, y1, lw)
for name, tx, ty, x0, y0, x1, y1 in labels_c:
    put(c3, tx, ty, name, 11.8, 'bold')
    seg(c3, x0, y0, x1, y1)

for y, face, edge in [(225, '#ee9a80', '#e02b20'), (335, '#8f9bcc', '#3a5fb0'), (445, '#6e6e6e', 'black')]:
    xy = c3(1226, y)
    canvas.add_patch(Ellipse(xy, 33, 33, facecolor=face, edgecolor=edge, lw=2.4))
for y, s in [(226, 'Up-reg.'), (338, 'Down-reg.'), (428, 'Not sig.'), (490, '+no change')]:
    put(c3, 1282, y, s, 15.7, 'bold', ha='left')

# panel c text
put(c4, 905, 40, 'Enrich GO: biological process', 15.85, 'bold')
put(c4, 545, 117, '(P56: Upregulated)', 15.8, 'bold')
put(c4, 1218, 117, '(P56: Downregulated)', 15.8, 'bold')
put(c4, 560, 1518, 'Gene ratio', 16, 'bold')
put(c4, 1228, 1100, 'Gene ratio', 16, 'bold')
put(c4, 795, 380, 'p-adjust', 15.5, 'bold')
put(c4, 1443, 183, 'p-adjust', 15.5, 'bold')
put(c4, 790, 780, 'Count', 15.5, 'bold')
put(c4, 1430, 592, 'Count', 15.5, 'bold')
for y, s in [(450, '0.020'), (507, '0.0175'), (571, '0.0150'), (635, '0.0125')]:
    put(c4, 807, y, s, 14, ha='left')
for y, s in [(237, '0.011'), (298, '0.010'), (357, '0.009'), (424, '0.008'), (483, '0.007')]:
    put(c4, 1462, y, s, 14, ha='left')
for count, y in zip(up_count_levels, [838, 900, 960, 1028, 1098, 1180]):
    xy = c4(778, y)
    canvas.scatter(*xy, s=to_s(up_diam[count]), color='black', linewidth=0)
    put(c4, 815, y, str(count), 14, ha='left')
for s, y, d in zip(down_count_levels, [648, 710, 775, 860, 945], [17, 27, 30, 33, 37]):
    xy = c4(1426, y)
    canvas.scatter(*xy, s=to_s(d), color='black', linewidth=0)
    put(c4, 1460, y, s, 14, ha='left')

# panel d chord diagram
cx, cy = 1583, 1086
r_term_out, r_term_in, r_gene_in, r_box_in, r_box_out = 340, 308, 311, 326, 343


def polar(angle, r):
    a = np.deg2rad(angle)
    return cx + r * np.cos(a), cy - r * np.sin(a)


def annular(a0, a1, r0, r1, face, edge, lw=.7, z=3):
    t = np.linspace(a0, a1, 40)
    xo, yo = polar(t, r1)
    xi, yi = polar(t[::-1], r0)
    canvas.fill(np.r_[xo, xi], np.r_[yo, yi], facecolor=face, edgecolor=edge, lw=lw, zorder=z)


gene_angle = 86.7 - np.arange(len(chord_genes)) * (176.2 / (len(chord_genes) - 1))
half = 1.2
for t in reversed(range(len(go_names))):
    members = [g for g, s in enumerate(chord_terms) if str(t) in s]
    edges = np.linspace(go_start[t], go_end[t], len(members) + 1)
    for k, g in enumerate(members):
        share = chord_terms[g]
        pos = share.index(str(t))
        step = 2 * half / len(share)
        g_hi = gene_angle[g] + half - pos * step
        g_lo = g_hi - step
        verts = [polar(edges[k], r_term_in), (cx, cy), polar(g_hi, r_gene_in), polar(g_lo, r_gene_in), (cx, cy),
                 polar(edges[k + 1], r_term_in), polar(edges[k], r_term_in)]
        codes = [Path.MOVETO, Path.CURVE3, Path.CURVE3, Path.LINETO, Path.CURVE3, Path.CURVE3, Path.CLOSEPOLY]
        canvas.add_patch(PathPatch(Path(verts, codes), facecolor=term_chord[t], edgecolor='none', lw=0, zorder=2))
for t in range(len(go_names)):
    annular(go_start[t], go_end[t], r_term_in, r_term_out, term_ring[t], '#444444')
fc_norm = Normalize(1, 7)
for name, ang, fc in zip(chord_genes, gene_angle, chord_fc):
    annular(ang - 1.15, ang + 1.15, r_box_in, r_box_out, fc_cmap(fc_norm(fc)), '#555555', lw=.7)
    canvas.text(*polar(ang, r_box_out + 8), name, rotation=ang, rotation_mode='anchor', ha='left', va='center', fontsize=11.6)

for px, py, s, weight, size in [(735, 70, 'reg. of innate immune', 'bold', 18), (836, 117, 'response', 'bold', 18),
                                (528, 180, 'defense response', 'normal', 16.1), (566, 225, 'to symbiont', 'normal', 16.1),
                                (364, 369, 'defense response', 'bold', 18), (424, 414, 'to viruses', 'bold', 18),
                                (268, 613, '+ve reg. of defense', 'bold', 18), (345, 660, 'response', 'bold', 18),
                                (311, 880, 'reg. of response', 'normal', 16.1), (308, 925, 'to biotic stimulus', 'normal', 16.1),
                                (421, 1139, 'response to', 'bold', 18), (461, 1184, 'viruses', 'bold', 18),
                                (448, 1301, 'negative reg. of immune', 'bold', 18), (500, 1346, 'system processes', 'bold', 18),
                                (747, 1405, '+ve reg. of response', 'normal', 16.1), (760, 1449, 'to external stimuli', 'normal', 16.1)]:
    put(c5, px, py, s, size, weight)
put(c5, 192, 73, 'P84 G93A/WT', 15.5, 'bold')
put(c5, 192, 124, r'Log$_\mathbf{2}$ (FC)', 15.5, 'bold')
put(c5, 60, 178, '1', 15.5, 'bold')
put(c5, 324, 180, '7', 15.5, 'bold')

# panel e
def type_venn(y_shift, title, numbers, frac):
    put(c10, 547, 133 + y_shift, title, 16.2, 'bold')
    for px, py in [(326, 370), (763, 370), (547, 604)]:
        canvas.add_patch(Ellipse(c10(px, py + y_shift), 202, 200, fill=False, edgecolor='#1a1a1a', lw=2.2))
    for px, py, s in [(318, 218, 'Type I'), (768, 218, 'Type II'), (548, 762, 'Type III')]:
        put(c10, px, py + y_shift, s, 15.3)
    for px, py, s in zip([297, 543, 785, 543, 403, 687, 547], [343, 343, 343, 447, 500, 500, 643], numbers):
        put(c10, px, py + y_shift, str(s), 15.3, 'bold')
    for py, s in zip((702, 758), frac):
        put(c10, 35, py + y_shift, s, 15.3, ha='left')


type_venn(0, 'P56 G93A/WT spinal cord', [4, 11, 0, 0, 0, 0, 0], ['15/93', '(16.13%)'])
type_venn(730, 'P84 G93A/WT spinal cord', [40, 128, 1, 0, 0, 0, 0], ['169/315', '(53.65%)'])

# panel f text
for c, x0, x1, x2, x3, yl, yt, wt, gt in [(c6, 126, 428, 447, 750, 132, 107, 285, 595), (c7, 113, 346, 358, 597, 62, 42, 232, 472),
                                          (c8, 92, 333, 345, 592, 77, 52, 220, 462)]:
    seg(c, x0, yl, x1, yl, 1.5)
    seg(c, x2, yl, x3, yl, 1.5)
    put(c, wt, yt, 'WT', 16)
    put(c, gt, yt, 'G93A', 16)
put(c6, 80, 768, 'C-C/C-X-C-motif chemokine genes', 15.5, 'bold', rotation=90)
put(c7, 65, 755, 'Interferon-stimulating genes', 16, 'bold', rotation=90)
put(c8, 32, 862, 'Inflammatory genes', 16, 'bold', rotation=90)
lanes = [1, 2, 3, 4, 5, 6, 7, 8]
for c, lane_x, ys, xs in [(c6, 52, 1268, [160, 237, 315, 391, 483, 566, 643, 721]), (c7, 52, 1545, [140, 198, 263, 320, 388, 450, 507, 565]),
                          (c8, 25, 1543, [117, 178, 240, 301, 375, 437, 498, 560])]:
    put(c, lane_x, ys, 'Lane', 11.3)
    for n, px in zip(lanes, xs):
        put(c, px, ys, str(n), 11.3)
put(c6, 430, 1365, 'Z-score', 16, 'bold')
for px, s in [(198, '-3'), (430, '0'), (663, '3')]:
    put(c6, px, 1493, s, 16, 'bold')


# panel g
def venn(c, centres, counts, cmap, vmax, edge):
    rx, ry = 109.3, 107
    low = cmap(counts['overlap'] / vmax)
    order = [('p84', cmap(counts['p84'] / vmax)), ('p56', cmap(counts['p56'] / vmax)), ('p28', cmap(counts['p28'] / vmax))]
    for k, col in order:
        canvas.add_patch(Ellipse(c(*centres[k]), 2 * rx, 2 * ry, facecolor=col, edgecolor='none', zorder=2))
    clipper = Ellipse(c(*centres['p56']), 2 * rx, 2 * ry, transform=canvas.transData)
    for k in ('p84', 'p28'):
        p = Ellipse(c(*centres[k]), 2 * rx, 2 * ry, facecolor=low, edgecolor='none', zorder=2.5)
        canvas.add_patch(p)
        p.set_clip_path(clipper)
    clip2 = Ellipse(c(*centres['p84']), 2 * rx, 2 * ry, transform=canvas.transData)
    p = Ellipse(c(*centres['p28']), 2 * rx, 2 * ry, facecolor=low, edgecolor='none', zorder=2.5)
    canvas.add_patch(p)
    p.set_clip_path(clip2)
    for k in centres:
        canvas.add_patch(Ellipse(c(*centres[k]), 2 * rx, 2 * ry, fill=False, edgecolor=edge, lw=1.1, zorder=3))


venn(c9, {'p56': (668, 348), 'p28': (537, 541), 'p84': (800, 541)}, venn_up, venn_red, 300, '#e2342c')
venn(c9, {'p56': (667, 1116), 'p28': (535, 1310), 'p84': (799, 1310)}, venn_down, venn_blue, 28, '#3b4fa5')
gene_blue = '#3f7fc4'
for px, py, s in [(665, 247, venn_up['p56']), (507, 413, 0), (664, 475, 0), (424, 605, venn_up['p28']), (664, 634, 0), (903, 605, venn_up['p84']),
                  (665, 1012, venn_down['p56']), (827, 1178, 0), (666, 1237, 0), (421, 1342, venn_down['p28']), (903, 1342, venn_down['p84']), (666, 1407, 0)]:
    canvas.text(*c9(px, py), str(s), fontsize=18.5, ha='center', va='center', zorder=5)
canvas.text(*c9(829, 413), '14', fontsize=18.5, fontweight='bold', color=gene_blue, ha='center', va='center', zorder=5)
canvas.text(*c9(510, 1178), '1', fontsize=18.5, fontweight='bold', color='#2e9e57', ha='center', va='center', zorder=5)
for py in (98, 870):
    put(c9, 665, py, 'P56', 15.5)
for py in (352, 1127):
    put(c9, 305, py, 'P28', 15.5)
    put(c9, 1035, py, 'P84', 15.5)
put(c9, 1148, 748, 'Upregulated', 16, 'bold')
put(c9, 1185, 1500, 'Downregulated', 16, 'bold')
gene_y = [103, 155, 208, 257, 313, 365, 413]
for py, a, b in zip(gene_y, genes_col1, genes_col2):
    put(c9, 1160, py, a, 16, style='italic', color=gene_blue, ha='left')
    put(c9, 1365, py, b, 16, style='italic', color=gene_blue, ha='left')
seg(c9, 1140, 90, 1140, 433)
seg(c9, 1140, 218, 1078, 218)
canvas.plot(*zip(c9(1078, 218), c9(878, 375)), color='black', lw=1, zorder=6)
put(c9, 170, 975, 'Aoc3', 16, style='italic', color='#2fa84f')
seg(c9, 246, 932, 246, 1018)
seg(c9, 246, 975, 313, 975)
canvas.plot(*zip(c9(313, 975), c9(447, 1137)), color='black', lw=1, zorder=6)
put(c9, 141, 462, 'Count', 16, 'bold')
put(c9, 141, 1248, 'Count', 16, 'bold')
for py, s in [(513, '300'), (597, '200'), (680, '100'), (764, '0')]:
    put(c9, 140, py, s, 15.5, ha='left')
for py, s in [(1340, '20'), (1432, '10'), (1514, '0')]:
    put(c9, 136, py, s, 15.5, ha='left')

fig.savefig('out.png', dpi=100)
